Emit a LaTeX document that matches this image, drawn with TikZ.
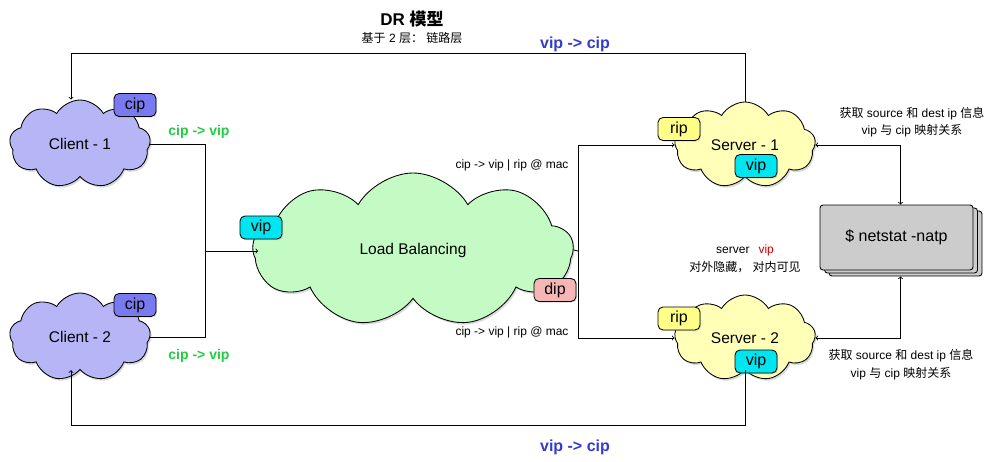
\documentclass[tikz,border=0pt]{standalone}
\usepackage{fontspec}
\setmainfont{Liberation Sans}
\newfontfamily\cjk{Noto Sans CJK SC}
\newcommand{\zh}[1]{{\cjk #1}}
\usetikzlibrary{shapes.symbols, shadows, positioning}

\definecolor{clientFill}{RGB}{182,182,247}
\definecolor{cipFill}{RGB}{122,122,240}
\definecolor{lbFill}{RGB}{196,251,196}
\definecolor{serverFill}{RGB}{255,255,184}
\definecolor{vipFill}{RGB}{0,230,240}
\definecolor{ripFill}{RGB}{255,255,136}
\definecolor{dipFill}{RGB}{247,182,182}
\definecolor{boxGray}{RGB}{204,204,204}
\definecolor{reqGreen}{RGB}{34,204,68}
\definecolor{respBlue}{RGB}{51,60,204}
\definecolor{hideRed}{RGB}{204,0,0}

\begin{document}
\begin{tikzpicture}[x=1pt, y=1pt, node distance=100pt, on grid, line width=0.85pt]
	\tikzstyle{cloudNode} = [draw, cloud, cloud puffs=9, cloud puff arc=120, cloud ignores aspect, inner sep=0pt, font={\fontsize{15.5}{18}\selectfont}, drop shadow={opacity=0.3, shadow xshift=1.5pt, shadow yshift=-2pt}];
	\tikzstyle{tagNode} = [draw, rounded corners=5pt, minimum width=42pt, minimum height=23pt, inner sep=0pt, font={\fontsize{16}{18}\selectfont}, drop shadow={opacity=0.3, shadow xshift=1pt, shadow yshift=-1pt}];
	\tikzstyle{stackBox} = [draw, fill=boxGray, rounded corners=3pt, minimum width=153pt, minimum height=65pt, font={\fontsize{16}{18}\selectfont}, double copy shadow={shadow xshift=4.5pt, shadow yshift=-3pt, fill=boxGray, draw}];
	\tikzstyle{flowLabel} = [font={\bfseries\fontsize{14}{16}\selectfont}];
	\tikzstyle{noteLabel} = [align=center, font={\fontsize{12}{17.5}\selectfont}];
	\tikzstyle{macLabel} = [font={\fontsize{12}{14}\selectfont}];

	\useasboundingbox (0,0) rectangle (991,-461);

	% title
	\node[font={\bfseries\fontsize{17}{20}\selectfont}] (title) at (412,-19) {DR \zh{模型}};
	\node[noteLabel] (sub) [below=19pt of title] {\zh{基于} 2 \zh{层：} \zh{链路层}};

	% clouds
	\node[cloudNode, fill=lbFill, minimum width=320pt, minimum height=154pt] (lb) at (413,-250) {Load Balancing};
	\node[cloudNode, fill=clientFill, minimum width=141pt, minimum height=88pt] (c1) [above left=106pt and 333pt of lb] {Client - 1};
	\node[cloudNode, fill=clientFill, minimum width=141pt, minimum height=88pt] (c2) [below left=87pt and 333pt of lb] {Client - 2};
	\node[cloudNode, fill=serverFill, minimum width=141pt, minimum height=86pt] (s1) [above right=105pt and 332pt of lb] {Server - 1};
	\node[cloudNode, fill=serverFill, minimum width=141pt, minimum height=86pt] (s2) [below right=88pt and 332pt of lb] {Server - 2};
	\node[stackBox] (ns) [above right=12.5pt and 483.5pt of lb] {\$ netstat -natp};

	% ip tags
	\node[tagNode, fill=cipFill] (c1cip) [above right=39pt and 55pt of c1] {cip};
	\node[tagNode, fill=cipFill] (c2cip) [above right=32pt and 55pt of c2] {cip};
	\node[tagNode, fill=vipFill] (lbvip) [above left=22.5pt and 152pt of lb] {vip};
	\node[tagNode, fill=dipFill] (lbdip) [below right=40pt and 142pt of lb] {dip};
	\node[tagNode, fill=ripFill] (s1rip) [above left=16pt and 66pt of s1] {rip};
	\node[tagNode, fill=vipFill] (s1vip) [below right=21pt and 11pt of s1] {vip};
	\node[tagNode, fill=ripFill] (s2rip) [above left=19.5pt and 66pt of s2] {rip};
	\node[tagNode, fill=vipFill] (s2vip) [below right=23.5pt and 11pt of s2] {vip};

	% bends
	\coordinate (tl) at (71,-53);
	\coordinate (bl) at (71,-425);
	\coordinate (jn) at (205,-251);
	\coordinate (sp) at (578,-251);

	% connectors
	\draw[->] (s1.north) |- (tl) -- (tl |- c1.north);
	\draw (c1.east) -| (jn);
	\draw (c2.east) -| (jn);
	\draw[->] (jn) -- ([xshift=6pt]jn -| lb.west);
	\draw (lb.east) -- (sp);
	\draw[->] (sp) |- (s1.west);
	\draw[->] (sp) |- (s2.west);
	\draw[->] (s2.south) |- (bl) -- (bl |- c2.south);
	\draw[<->] (s1.east) -| ([xshift=4pt]ns.north);
	\draw[<->] (s2.east) -| ([xshift=4pt, yshift=-6pt]ns.south);

	% labels
	\node[flowLabel, text=reqGreen] (req1) [above right=12pt and 119pt of c1] {cip -> vip};
	\node[flowLabel, text=reqGreen] (req2) [below right=19pt and 119pt of c2] {cip -> vip};
	\node[flowLabel, text=respBlue, font={\bfseries\fontsize{16}{18}\selectfont}] (resp1) at (575,-44) {vip -> cip};
	\node[flowLabel, text=respBlue, font={\bfseries\fontsize{16}{18}\selectfont}] (resp2) at (575,-447) {vip -> cip};
	\node[macLabel] (mac1) [above right=85pt and 99pt of lb] {cip -> vip | rip @ mac};
	\node[macLabel] (mac2) [below right=82pt and 99pt of lb] {cip -> vip | rip @ mac};
	\node[noteLabel] (info1) [above right=115.5pt and 15.5pt of ns] {\zh{获取} source \zh{和} dest ip \zh{信息}\\vip \zh{与} cip \zh{映射关系}};
	\node[noteLabel] (info2) [below right=127pt and 4.5pt of ns] {\zh{获取} source \zh{和} dest ip \zh{信息}\\vip \zh{与} cip \zh{映射关系}};
	\node[noteLabel] (hide) at (745,-259) {server\hspace{9pt}\textcolor{hideRed}{vip}\\\zh{对外隐藏，} \zh{对内可见}};
\end{tikzpicture}
\end{document}
